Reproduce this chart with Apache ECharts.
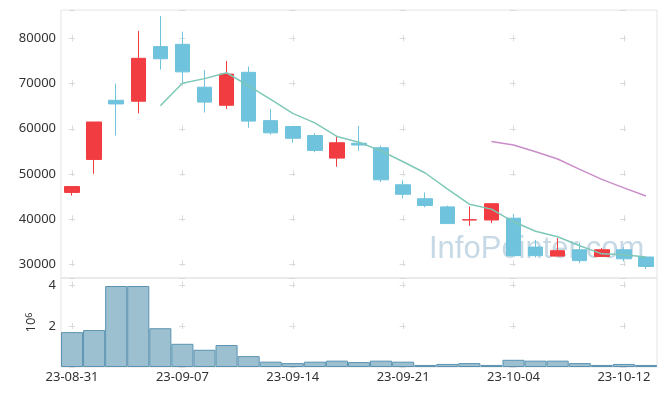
<!DOCTYPE html>
<html>
<head>
<meta charset="utf-8">
<script src="https://cdn.jsdelivr.net/npm/echarts@6/dist/echarts.min.js"></script>
<style>
html,body{margin:0;padding:0;background:#fff;}
#chart{width:665px;height:396px;}
</style>
</head>
<body>
<div id="chart"></div>
<script>
// ---- data ----
var dates = ['23-08-31','23-09-01','23-09-04','23-09-05','23-09-06','23-09-07','23-09-08','23-09-11','23-09-12','23-09-13',
             '23-09-14','23-09-15','23-09-18','23-09-19','23-09-20','23-09-21','23-09-22','23-09-25','23-09-26','23-09-27',
             '23-10-04','23-10-05','23-10-06','23-10-10','23-10-11','23-10-12','23-10-13'];
var openV  = [45900,53200,66300,66100,78200,78700,69200,65200,72500,61800,60500,58500,53500,56800,55800,47600,44500,42700,39800,39800,40200,33800,31800,33200,31700,33200,31600];
var closeV = [47200,61500,65500,75600,75500,72600,65900,72100,61700,59100,57900,55200,56900,56400,48700,45500,43000,39000,39850,43400,31900,31900,33000,30800,33200,31200,29500];
var lowV   = [45200,50000,58500,63400,73100,70200,63600,64400,60200,58700,56900,54800,51600,55100,48200,44600,42600,38900,38500,39100,31800,31500,31800,30200,31600,30600,28900];
var highV  = [47200,61500,70000,81700,85000,81500,73000,75000,73800,64400,60500,59000,58400,60600,56300,48600,45900,43000,42800,43400,41100,35400,35800,34800,33600,33800,31600];
var ma5    = [null,null,null,null,65100,70100,71100,72400,69500,66500,63400,61300,58300,57000,55100,52700,50200,46700,43300,42200,39400,37300,36100,34100,32300,32100,31600];
var ma20   = [null,null,null,null,null,null,null,null,null,null,null,null,null,null,null,null,null,null,null,57200,56400,54900,53300,51000,48800,46900,45100];
var volume = [1700000,1800000,3950000,3950000,1890000,1130000,840000,1070000,530000,260000,190000,260000,310000,240000,310000,260000,100000,150000,190000,100000,350000,310000,310000,190000,100000,150000,100000];

var ohlc = dates.map(function(d,i){ return [openV[i], closeV[i], lowV[i], highV[i]]; });

var chart = echarts.init(document.getElementById('chart'), null, {renderer:'canvas'});
var FONT = 'Noto Sans';
var gridCol = '#dadada';
var everyFifth = function(i){ return i % 5 === 0; };

var option = {
  animation: false,
  backgroundColor: '#ffffff',
  textStyle: {fontFamily: FONT},
  graphic: [{
    type: 'text', left: 429, top: 234, z: 0, silent: true,
    style: {text: 'InfoPointer.com', fontSize: 31, fontFamily: 'Liberation Sans', fill: '#c6d9e5'}
  }],
  grid: [
    {left: 61, right: 8, top: 10, height: 268, show: true, borderColor: '#e4e4e4', borderWidth: 1, backgroundColor: 'transparent'},
    {left: 61, right: 8, top: 278, height: 89, show: true, borderColor: '#e4e4e4', borderWidth: 1, backgroundColor: 'transparent'}
  ],
  xAxis: [
    {gridIndex: 0, type: 'category', data: dates, boundaryGap: true,
     axisLine: {show: false}, axisTick: {show: false}, axisLabel: {show: false},
     splitLine: {show: true, interval: everyFifth, alignWithLabel: true,
       lineStyle: {color: gridCol, width: 1, type: [6, 39], dashOffset: 19.7}}},
    {gridIndex: 1, type: 'category', data: dates, boundaryGap: true,
     axisLine: {show: false}, axisTick: {show: false},
     axisLabel: {show: true, interval: everyFifth, color: '#333', fontSize: 13, margin: 4, fontFamily: FONT},
     splitLine: {show: true, interval: everyFifth, alignWithLabel: true,
       lineStyle: {color: gridCol, width: 1, type: [6, 35.3], dashOffset: 37.6}}}
  ],
  yAxis: [
    {gridIndex: 0, type: 'value', min: 26950, max: 86300, splitNumber: 5, scale: true,
     axisLine: {show: false}, axisTick: {show: false},
     axisLabel: {color: '#333', fontSize: 13, margin: 5, showMinLabel: false, showMaxLabel: false, fontFamily: FONT,
       formatter: function(v){ return String(v); }},
     splitLine: {show: true, lineStyle: {color: gridCol, width: 1, type: [6, 104.2], dashOffset: 102.2}}},
    {gridIndex: 1, type: 'value', min: 0, max: 4340000, interval: 2000000,
     axisLine: {show: false}, axisTick: {show: false},
     axisLabel: {color: '#333', fontSize: 13, margin: 5, showMinLabel: false, showMaxLabel: false, fontFamily: FONT,
       formatter: function(v){ return String(v / 1000000); }},
     name: '10{s|6}', nameLocation: 'middle', nameRotate: 90, nameGap: 22,
     nameTextStyle: {color: '#333', fontSize: 13, fontFamily: FONT,
       rich: {s: {fontSize: 9, verticalAlign: 'top', color: '#333', fontFamily: FONT}}},
     splitLine: {show: true, lineStyle: {color: gridCol, width: 1, type: [6, 104.2], dashOffset: 102.2}}}
  ],
  series: [
    {type: 'candlestick', xAxisIndex: 0, yAxisIndex: 0, data: ohlc, barWidth: 15, z: 3,
     itemStyle: {color: '#f13d41', color0: '#6fc3dc', borderColor: '#f13d41', borderColor0: '#6fc3dc', borderWidth: 1}},
    {type: 'line', xAxisIndex: 0, yAxisIndex: 0, data: ma5, symbol: 'none', z: 4,
     lineStyle: {color: '#7ec8b7', width: 1.5}},
    {type: 'line', xAxisIndex: 0, yAxisIndex: 0, data: ma20, symbol: 'none', z: 4,
     lineStyle: {color: '#c98dc9', width: 1.5}},
    {type: 'bar', xAxisIndex: 1, yAxisIndex: 1, data: volume, barWidth: '100%', barCategoryGap: '0%',
     itemStyle: {color: '#9dc0d1', borderColor: '#5a93b0', borderWidth: 1}}
  ]
};
chart.setOption(option);
</script>
</body>
</html>
